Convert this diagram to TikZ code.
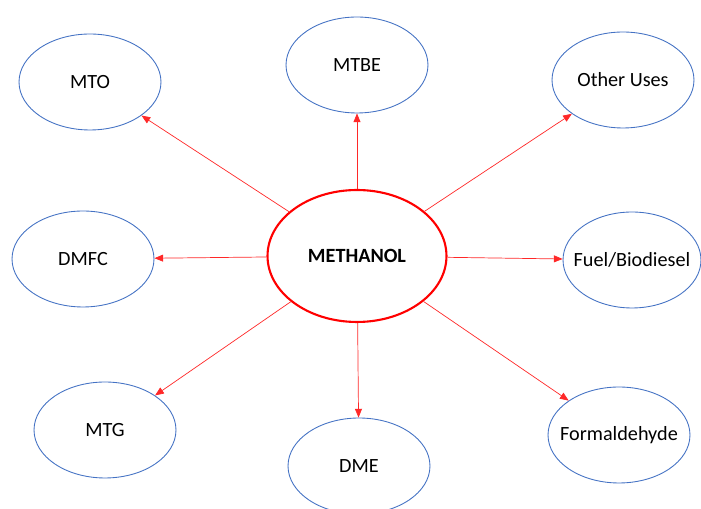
\documentclass[tikz,border=0pt]{standalone}
\usepackage{fontspec}
\setmainfont{Carlito}
\usepackage{tikz}
\usetikzlibrary{shapes, arrows.meta}
\definecolor{useblue}{RGB}{68,114,196}
\definecolor{linered}{RGB}{255,40,40}
\tikzstyle{use} = [ellipse, inner xsep=-6pt, inner ysep=0pt, minimum width=2.84cm, minimum height=1.92cm, text centered, draw=useblue, line width=0.5pt, fill=white, font=\fontsize{11.5}{13}\selectfont]
\tikzstyle{hub} = [ellipse, inner sep=0pt, minimum width=3.58cm, minimum height=2.64cm, text centered, draw=red, line width=1.2pt, fill=white, font=\fontsize{11.5}{13}\selectfont\bfseries]
\tikzstyle{arrow} = [-{Triangle[width=4pt,length=5pt]}, draw=linered, line width=0.4pt]

\begin{document}
\begin{tikzpicture}[x=0.02cm, y=-0.02cm]

    \useasboundingbox (0, 0) rectangle (701, 509);

    \node (meth) [hub] at (357, 256) {METHANOL};

    \node (mto) [use] at (90, 82) {MTO};
    \node (mtbe) [use] at (357, 65) {MTBE};
    \node (other) [use] at (623, 80) {Other Uses};
    \node (dmfc) [use] at (83, 259) {DMFC};
    \node (fuel) [use, minimum width=2.76cm] at (632, 260) {Fuel/Biodiesel};
    \node (mtg) [use] at (105, 430) {MTG};
    \node (dme) [use] at (359, 466) {DME};
    \node (form) [use] at (619, 435) {Formaldehyde};

    \draw [arrow] (meth) -- (mto);
    \draw [arrow] (meth) -- (mtbe);
    \draw [arrow] (meth) -- (other);
    \draw [arrow] (meth) -- (dmfc);
    \draw [arrow] (meth) -- (fuel);
    \draw [arrow] (meth) -- (mtg);
    \draw [arrow] (meth) -- (dme);
    \draw [arrow] (meth) -- (form);

\end{tikzpicture}
\end{document}
